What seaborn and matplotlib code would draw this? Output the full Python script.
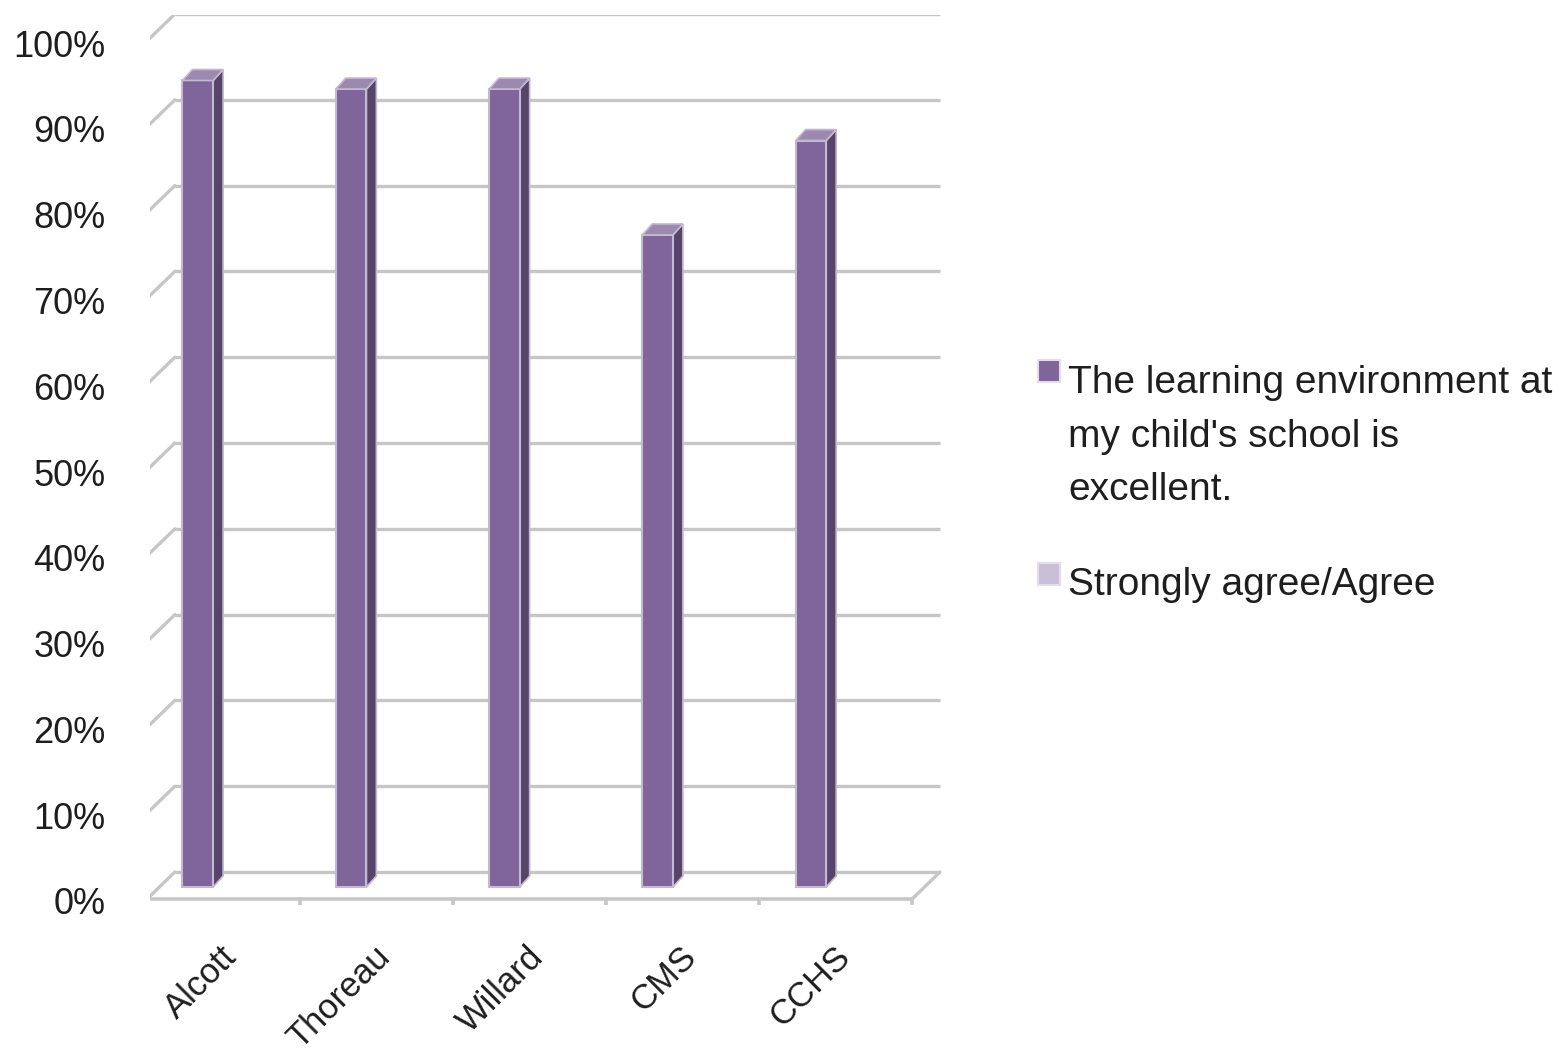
import matplotlib
matplotlib.use('Agg')
import matplotlib.pyplot as plt
import matplotlib.transforms as mtransforms
from matplotlib.patches import Polygon, Rectangle
import seaborn as sns
import pandas as pd

# values
schools = ['Alcott', 'Thoreau', 'Willard', 'CMS', 'CCHS']
agree = [0.94, 0.93, 0.93, 0.76, 0.87]
ytick_vals = [0.0, 0.1, 0.2, 0.3, 0.4, 0.5, 0.6, 0.7, 0.8, 0.9, 1.0]
ytick_labels = ['0%', '10%', '20%', '30%', '40%', '50%', '60%', '70%', '80%', '90%', '100%']
legend_labels = ["The learning environment at\nmy child's school is\nexcellent.",
                 'Strongly agree/Agree']

data = pd.DataFrame({'School': schools, 'Agree': agree})

sns.set_style('white')
plt.rcParams['font.family'] = ['Liberation Sans', 'DejaVu Sans']

front_col = '#7F6599'
side_col = '#574569'
top_col = '#9C89B0'
edge_col = '#C4B9D4'
grid_col = '#C6C6C6'
text_col = '#1E1E1E'
legend_cols = [front_col, '#C9C0D8']

W, H = 1566, 1060
fig = plt.figure(figsize=(W / 100, H / 100), dpi=100)
ax = fig.add_axes([150 / W, 155 / H, 795 / W, 890 / H])

# pixel sizes in data units (154 px per category, 858 px per 100%)
px = 1 / 154
py = 1 / 858
xl, xr = -0.312, 4.68


def front(x, y):
    return x - 3 * px, y - 12 * py


def back(x, y):
    return x + 25 * px, y + 15 * py


sns.barplot(data=data, x='School', y='Agree', color=front_col, width=0.2,
            edgecolor=edge_col, linewidth=1.5, saturation=1, ax=ax, zorder=5)

# 3d side and top faces for each bar
dx, dy = 10 * px, 11 * py
for p in ax.patches:
    x0, w, h = p.get_x(), p.get_width(), p.get_height()
    ax.add_patch(Polygon([(x0 + w, 0), (x0 + w + dx, dy), (x0 + w + dx, h + dy), (x0 + w, h)],
                         closed=True, facecolor=side_col, edgecolor=edge_col, lw=1.2, zorder=4))
    ax.add_patch(Polygon([(x0, h), (x0 + dx, h + dy), (x0 + w + dx, h + dy), (x0 + w, h)],
                         closed=True, facecolor=top_col, edgecolor=edge_col, lw=1.2, zorder=6))

# back wall gridlines and left wall
for v in ytick_vals:
    bx0, by = back(xl, v)
    bx1, _ = back(xr, v)
    ax.plot([bx0, bx1], [by, by], color=grid_col, lw=2.4, zorder=1, solid_capstyle='butt')
    fx, fy = front(xl, v)
    ax.plot([fx, bx0], [fy, by], color=grid_col, lw=2.4, zorder=1)
f0 = front(xl, 0)
f1 = front(xl, 1)
ax.plot([f0[0], f1[0]], [f0[1], f1[1]], color=grid_col, lw=2.6, zorder=1)

# floor
fr = front(xr, 0)
br = back(xr, 0)
ax.plot([f0[0], fr[0]], [f0[1], fr[1]], color=grid_col, lw=2.6, zorder=2)
ax.plot([fr[0], br[0]], [fr[1], br[1]], color=grid_col, lw=2.4, zorder=2)
for k in range(6):
    tx, ty = front(xl + k * (xr - xl) / 5, 0)
    ax.plot([tx, tx], [ty, ty - 12 * py], color=grid_col, lw=2.6, zorder=2)

ax.set_xlim(xl, xr + 30 * px)
ax.set_ylim(-18 * py, 1 + 14 * py)
for s in ax.spines.values():
    s.set_visible(False)
ax.set_xlabel('')
ax.set_ylabel('')

ax.set_yticks(ytick_vals, ytick_labels)
ax.tick_params(axis='y', length=0, pad=32, labelsize=26, labelcolor=text_col)
ax.set_xticks(range(len(schools)), schools)
ax.tick_params(axis='x', length=0, pad=0, labelsize=25, labelcolor=text_col)

shift_y = mtransforms.ScaledTranslation(0, -0.14, fig.dpi_scale_trans)
for lab in ax.get_yticklabels():
    lab.set_transform(lab.get_transform() + shift_y)
shift_x = mtransforms.ScaledTranslation(0.34, -0.47, fig.dpi_scale_trans)
for lab in ax.get_xticklabels():
    lab.set_rotation(45)
    lab.set_ha('right')
    lab.set_va('center')
    lab.set_rotation_mode('anchor')
    lab.set_transform(lab.get_transform() + shift_x)

# legend: square aligned with the first line of each entry
line_step = 54
entry_tops = [360, 563]
for col, label, top in zip(legend_cols, legend_labels, entry_tops):
    fig.patches.append(Rectangle((1038 / W, 1 - (top + 22) / H), 22 / W, 22 / H,
                                 transform=fig.transFigure, facecolor=col,
                                 edgecolor='#E4DEEC', lw=1.5))
    last_base = top + 32 + label.count('\n') * line_step
    fig.text(1068 / W, 1 - last_base / H, label, fontsize=28, color=text_col,
             va='baseline', ha='left', linespacing=1.62)

fig.savefig('out.png', dpi=100)
